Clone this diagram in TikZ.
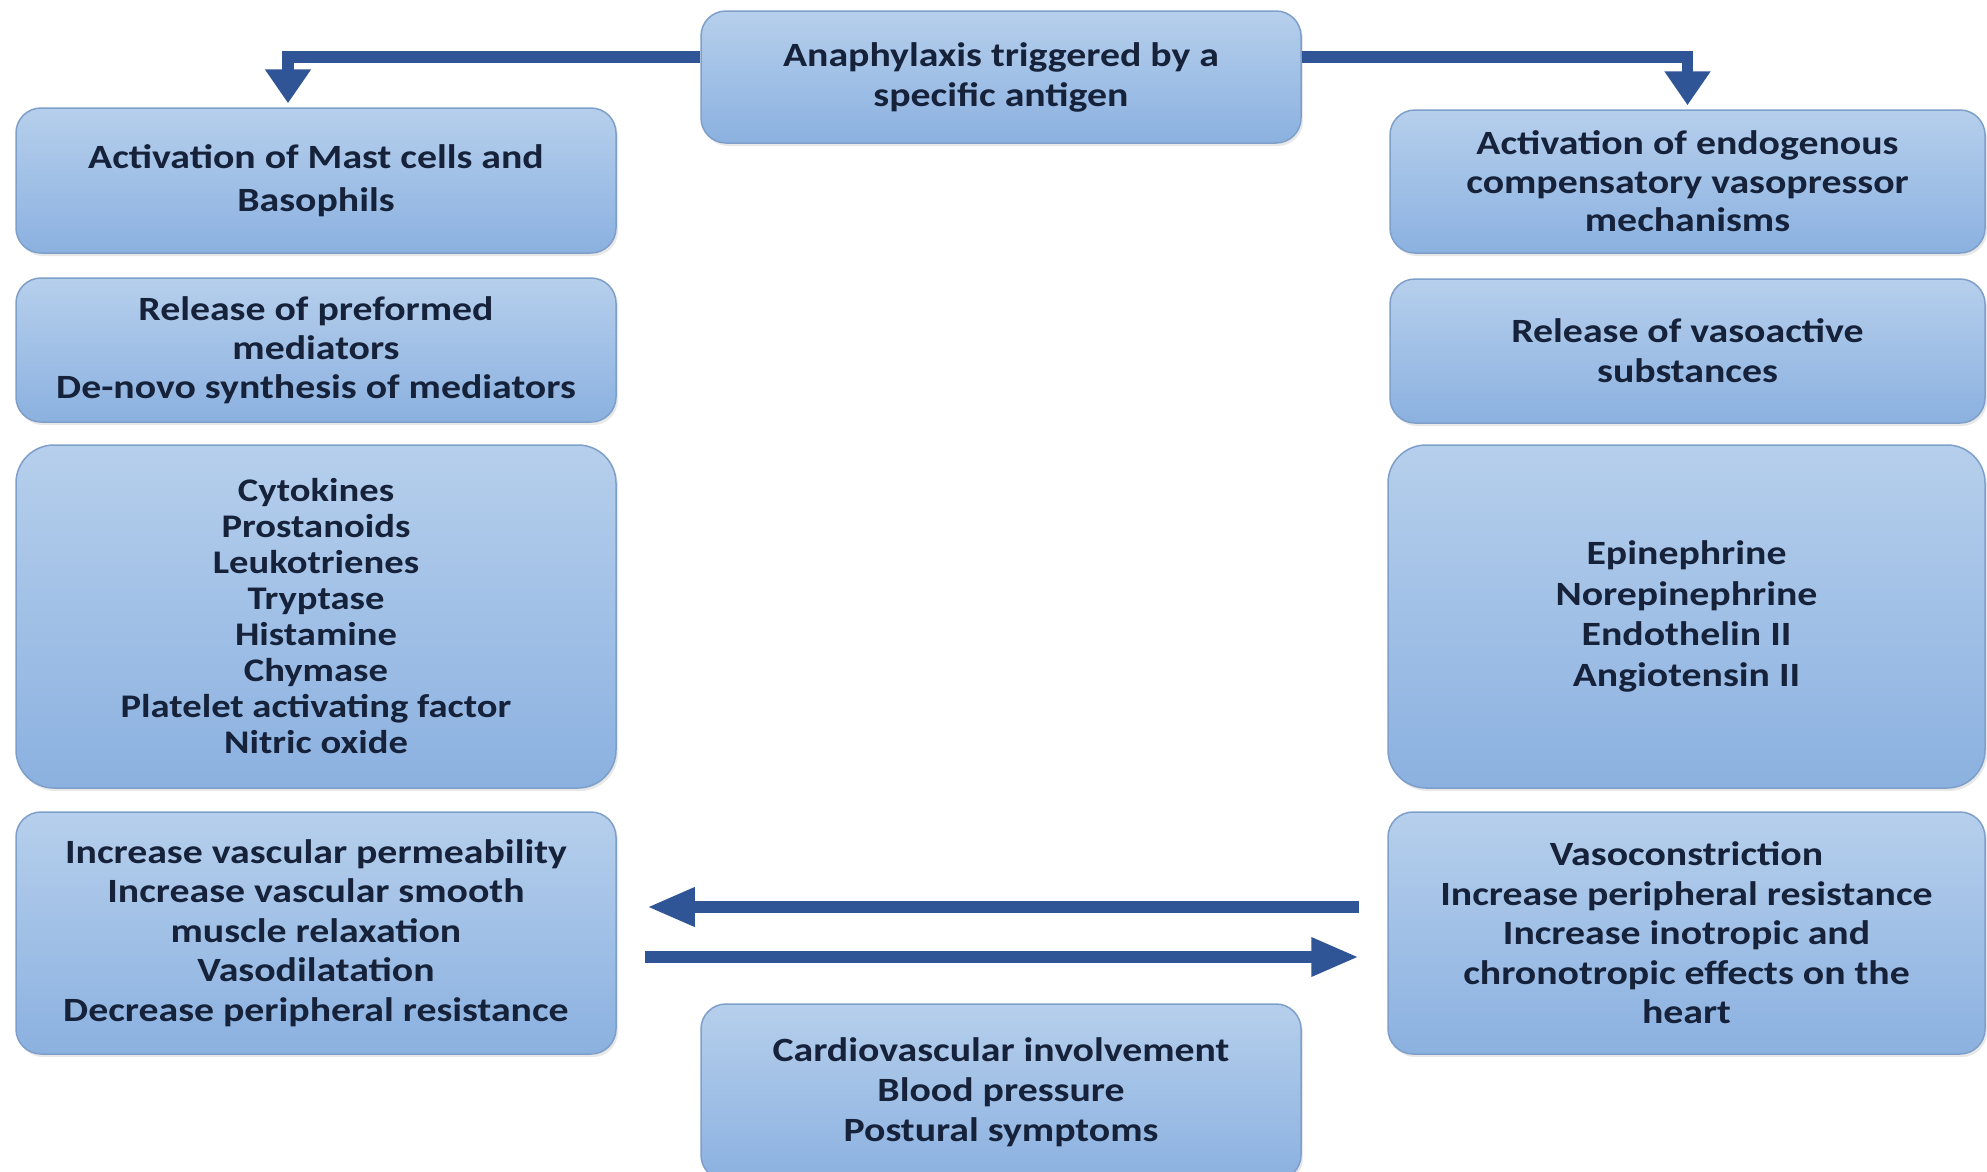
\documentclass[tikz,border=0pt]{standalone}
\usepackage{fontspec}
\setmainfont{Carlito}[FakeStretch=1.17]
\usetikzlibrary{arrows.meta,shadows,calc}
\definecolor{boxtop}{HTML}{B6CFEC}
\definecolor{boxbot}{HTML}{8BB1E0}
\definecolor{boxline}{HTML}{7E9FC9}
\definecolor{arrowblue}{HTML}{2F5597}
\definecolor{txt}{HTML}{16213A}
\begin{document}
\begin{tikzpicture}[x=1pt,y=-1pt,
  box/.style={draw=boxline, line width=1.5pt, rounded corners=25pt,
    top color=boxtop, bottom color=boxbot, align=center, text=txt,
    inner sep=0pt, minimum width=600pt,
    font=\fontsize{34}{40}\selectfont\bfseries,
    drop shadow={opacity=0.18, shadow xshift=2pt, shadow yshift=-3pt}},
  bigbox/.style={box, rounded corners=38pt},
  arr/.style={draw=arrowblue, line width=11.5pt, -{Triangle[width=44pt,length=34pt]}},
  arrm/.style={draw=arrowblue, line width=12pt, -{Triangle[width=36pt,length=48pt]}}]
\clip (0,0) rectangle (1987,1171);
\fill[white] (0,0) rectangle (1987,1171);

\node[box, minimum height=132pt] (top) at (1001,77)
  {Anaphylaxis triggered by a\\specific antigen};

\node[box, minimum height=145pt, font=\fontsize{34}{43}\selectfont\bfseries] (L1) at (316,180.5)
  {Activation of Mast cells and\\Basophils};
\node[box, minimum height=144pt, font=\fontsize{34}{39}\selectfont\bfseries] (L2) at (316,350)
  {Release of preformed\\mediators\\De-novo synthesis of mediators};
\node[bigbox, minimum height=343pt, font=\fontsize{33}{36}\selectfont\bfseries] (L3) at (316,616.5)
  {Cytokines\\Prostanoids\\Leukotrienes\\Tryptase\\Histamine\\Chymase\\Platelet activating factor\\Nitric oxide};
\node[box, minimum height=242pt, font=\fontsize{34}{39.5}\selectfont\bfseries] (L4) at (316,933)
  {Increase vascular permeability\\Increase vascular smooth\\muscle relaxation\\Vasodilatation\\Decrease peripheral resistance};

\node[box, minimum width=595pt, minimum height=143pt, font=\fontsize{34}{38.5}\selectfont\bfseries] (R1) at (1687.5,181.5)
  {Activation of endogenous\\compensatory vasopressor\\mechanisms};
\node[box, minimum width=595pt, minimum height=144pt] (R2) at (1687.5,351)
  {Release of vasoactive\\substances};
\node[bigbox, minimum width=597pt, minimum height=343pt, font=\fontsize{34}{40.5}\selectfont\bfseries] (R3) at (1686.5,616.5)
  {Epinephrine\\Norepinephrine\\Endothelin II\\Angiotensin II};
\node[box, minimum width=597pt, minimum height=242pt, font=\fontsize{34}{39.5}\selectfont\bfseries] (R4) at (1686.5,933)
  {Vasoconstriction\\Increase peripheral resistance\\Increase inotropic and\\chronotropic effects on the\\heart};

\node[box, minimum height=176pt] (bot) at (1001,1092)
  {Cardiovascular involvement\\Blood pressure\\Postural symptoms};

\draw[arr, shorten >=4pt] ([yshift=20pt]top.west) -| ([xshift=-28pt]L1.north);
\draw[arr, shorten >=4pt] ([yshift=20pt]top.east) -| (R1.north);
\draw[arrm] ([yshift=26pt,xshift=-28pt]R4.west) -- ([yshift=26pt,xshift=30pt]L4.east);
\draw[arrm] ([yshift=-24pt,xshift=28pt]L4.east) -- ([yshift=-24pt,xshift=-28pt]R4.west);
\end{tikzpicture}
\end{document}
